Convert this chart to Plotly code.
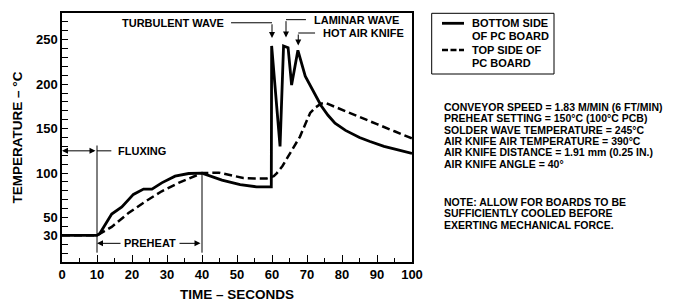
import plotly.graph_objects as go

# ---- data ----
t_bottom = [0, 10, 10.8, 12.3, 14.2, 17.1, 20.4, 23.3, 25.7, 28.5, 32.3, 36.2, 40,
            45.7, 50.9, 55.6, 59.8, 59.9, 62.3, 63.3, 64.6, 65.6, 67.4, 69.5, 72,
            74, 76, 78, 81, 85, 88, 92, 96, 100]
v_bottom = [30, 30, 32, 42, 54, 62, 76, 82, 82, 89, 96.5, 99.5, 100,
            92, 87, 84.5, 84.5, 243, 130, 243, 241, 199, 238, 209, 191.5,
            176, 165, 156, 148, 140, 135.5, 130, 126, 122]

t_top = [0, 10, 14.2, 19, 23.8, 28.5, 33.3, 37, 40, 44.8, 48, 51.8, 55, 58.5,
         60.5, 61.4, 63, 64.7, 66.3, 68, 69.5, 70.9, 72.5, 74, 75.2, 80, 84.3,
         90, 95, 100]
v_top = [30, 30, 39.5, 55, 68, 79.5, 89, 95, 100, 100.5, 97.5, 94.5, 94, 94,
         96.5, 100, 108, 119, 130, 141, 155, 167.6, 174, 178, 179, 171.5, 164,
         155, 147, 139]

series_names = ["BOTTOM SIDE<br>OF PC BOARD", "TOP SIDE OF<br>PC BOARD"]
legend_lines = [["BOTTOM SIDE", "OF PC BOARD"], ["TOP SIDE OF", "PC BOARD"]]

x_ticks = list(range(0, 101, 10))
y_tick_vals = list(range(10, 280, 10))
y_labeled = [30, 50, 100, 150, 200, 250]
y_tick_text = [str(v) if v in y_labeled else "" for v in y_tick_vals]

notes = [
    "CONVEYOR SPEED = 1.83 M/MIN (6 FT/MIN)",
    "PREHEAT SETTING = 150°C (100°C PCB)",
    "SOLDER WAVE TEMPERATURE = 245°C",
    "AIR KNIFE AIR TEMPERATURE = 390°C",
    "AIR KNIFE DISTANCE = 1.91 mm (0.25 IN.)",
    "AIR KNIFE ANGLE = 40°",
]
note2 = [
    "NOTE: ALLOW FOR BOARDS TO BE",
    "SUFFICIENTLY COOLED BEFORE",
    "EXERTING MECHANICAL FORCE.",
]

FONT = "Liberation Sans, Arial, sans-serif"
def F(size):
    return dict(family=FONT, size=size, color="black", weight="bold")
def B(s):
    return "<b>" + s + "</b>"

fig = go.Figure()
fig.add_trace(go.Scatter(x=t_bottom, y=v_bottom, mode="lines", name=series_names[0],
                         line=dict(color="black", width=2.8)))
fig.add_trace(go.Scatter(x=t_top, y=v_top, mode="lines", name=series_names[1],
                         line=dict(color="black", width=2.5, dash="8px,4px")))

# page-pixel geometry of the plot area (page has an 8px body margin)
PL, PR, PT, PB = 62, 412, 13, 262
def yp(py):
    return (PB - py) / (PB - PT)
def xp(px):
    return (px - PL) / (PR - PL)

ann = []
shapes = []

# right-hand text block
for i, s in enumerate(notes):
    ann.append(dict(text=B(s), xref="paper", yref="paper", x=xp(442), y=yp(106.7 + 11.4 * i),
                    xanchor="left", yanchor="middle", showarrow=False, font=F(10.5)))
for i, s in enumerate(note2):
    ann.append(dict(text=B(s), xref="paper", yref="paper", x=xp(442), y=yp(201.7 + 11.4 * i),
                    xanchor="left", yanchor="middle", showarrow=False, font=F(10.5)))

# manual legend box
shapes.append(dict(type="rect", xref="paper", yref="paper", x0=xp(431.7), x1=xp(554),
                   y0=yp(74), y1=yp(13.3), line=dict(color="black", width=1)))
shapes.append(dict(type="line", xref="paper", yref="paper", x0=xp(442), x1=xp(464),
                   y0=yp(23.3), y1=yp(23.3), line=dict(color="black", width=2.8)))
shapes.append(dict(type="line", xref="paper", yref="paper", x0=xp(442), x1=xp(464),
                   y0=yp(50), y1=yp(50), line=dict(color="black", width=2.5, dash="6px,2.5px")))
for j, pys in enumerate([(23.3, 36.3), (50, 63.3)]):
    for k, py in enumerate(pys):
        ann.append(dict(text=B(legend_lines[j][k]), xref="paper", yref="paper", x=xp(470),
                        y=yp(py), xanchor="left", yanchor="middle", showarrow=False,
                        font=F(11)))

# top callouts
def callout(text, tx, ty, side, x0, x1, tip):
    ann.append(dict(text=B(text), x=tx, y=ty, xref="x", yref="y", showarrow=False,
                    xanchor=side, yanchor="middle", font=F(11)))
    shapes.append(dict(type="line", xref="x", yref="y", x0=x0, x1=x1, y0=ty, y1=ty,
                       line=dict(color="black", width=1)))
    ann.append(dict(text="", x=x1, y=tip, ax=x1, ay=ty, xref="x", yref="y",
                    axref="x", ayref="y", showarrow=True, arrowhead=2, arrowsize=1.2,
                    arrowwidth=1, arrowcolor="black", standoff=0, startstandoff=0))

callout("TURBULENT WAVE", 46.9, 269, "right", 48.3, 60.0, 252)
callout("LAMINAR WAVE", 71.4, 272.5, "left", 69.7, 64.0, 252.5)
callout("HOT AIR KNIFE", 74.0, 257.5, "left", 72.3, 67.5, 243.5)

# fluxing
ann.append(dict(text="", x=0, y=125, ax=10, ay=125, xref="x", yref="y", axref="x",
                ayref="y", showarrow=True, arrowhead=2, arrowside="end+start",
                arrowsize=1.2, arrowwidth=1, arrowcolor="black", standoff=0,
                startstandoff=0))
shapes.append(dict(type="line", xref="x", yref="y", x0=10, x1=14.1, y0=125, y1=125,
                   line=dict(color="black", width=1)))
ann.append(dict(text=B("FLUXING"), x=15.3, y=125, xref="x", yref="y", showarrow=False,
                xanchor="left", yanchor="middle", font=F(11)))
shapes.append(dict(type="line", xref="x", yref="y", x0=10, x1=10, y0=131, y1=10.5,
                   line=dict(color="black", width=1)))
shapes.append(dict(type="line", xref="x", yref="y", x0=40, x1=40, y0=98, y1=10.5,
                   line=dict(color="black", width=1)))

# preheat
ann.append(dict(text="", x=10, y=21, ax=40, ay=21, xref="x", yref="y", axref="x",
                ayref="y", showarrow=True, arrowhead=2, arrowside="end+start",
                arrowsize=1.2, arrowwidth=1, arrowcolor="black", standoff=0,
                startstandoff=0))
ann.append(dict(text=B("PREHEAT"), x=25.1, y=21, xref="x", yref="y", showarrow=False,
                xanchor="center", yanchor="middle", font=F(11),
                bgcolor="white", borderpad=3))

fig.update_layout(
    width=665, height=294,
    margin=dict(l=PL - 8, r=665 - (PR - 8), t=PT - 8, b=294 - (PB - 8)),
    paper_bgcolor="white", plot_bgcolor="white",
    font=F(13),
    showlegend=False,
    annotations=ann,
    shapes=shapes,
)
fig.update_xaxes(range=[0, 100], tickvals=x_ticks, ticks="inside", ticklen=7,
                 tickwidth=1, tickcolor="black", showline=True, linecolor="black",
                 linewidth=1.5, mirror=True, showgrid=False, zeroline=False,
                 minor=dict(ticks="inside", dtick=5, ticklen=4, tickcolor="black",
                            tickwidth=1, showgrid=False),
                 tickfont=F(13), automargin=False,
                 title=dict(text="TIME – SECONDS", font=F(13.5), standoff=24))
fig.update_yaxes(range=[0, 280], tickvals=y_tick_vals, ticktext=y_tick_text,
                 ticks="inside", ticklen=6, tickwidth=1, tickcolor="black",
                 showline=True, linecolor="black", linewidth=1.5, mirror=True,
                 showgrid=False, zeroline=False, tickfont=F(13), automargin=False,
                 title=dict(text="TEMPERATURE – °C", font=F(13.5), standoff=10))

fig.write_html("out.html")
